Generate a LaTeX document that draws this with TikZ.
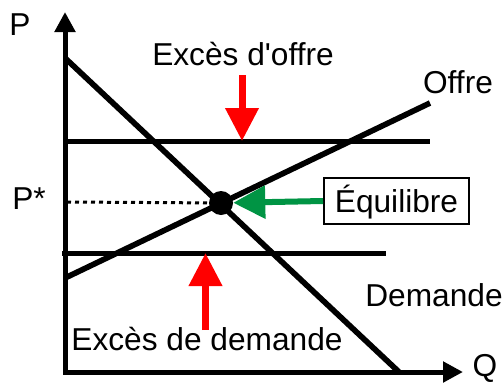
\documentclass[tikz,border=0pt]{standalone}
\usepackage{fontspec}
\setmainfont{Liberation Sans}
\usetikzlibrary{arrows.meta}
\definecolor{vertequi}{RGB}{0,148,68}

\begin{document}
\begin{tikzpicture}[
    x=0.75pt, y=-0.75pt,
    texte/.style={font=\fontsize{23.75}{28}\selectfont, inner sep=0pt, anchor=base},
    axe/.style={line width=3.75pt, line join=miter, {Triangle[length=15pt, width=15pt]}-{Triangle[length=15pt, width=15pt]}},
    courbe/.style={line width=4.25pt},
    niveau/.style={line width=3.75pt},
    pointille/.style={line width=2.25pt, dash pattern=on 3pt off 3pt},
    flecherouge/.style={line width=5.25pt, red, -{Triangle[length=24.75pt, width=24pt]}},
    flecheverte/.style={line width=4.5pt, vertequi, -{Triangle[length=24pt, width=24pt]}},
    equipoint/.style={circle, fill, inner sep=0pt, minimum size=18pt},
    boite/.style={rectangle, draw, line width=1.5pt, minimum width=108.75pt, minimum height=34.5pt, inner sep=0pt, text height=16.5pt, text depth=0pt, font=\fontsize{23.75}{28}\selectfont}
]
\useasboundingbox (0,0) rectangle (502,382);

\coordinate (origine) at (65,372);
\coordinate (ytip) at (65,12);
\coordinate (xtip) at (463,372);
\coordinate (dA) at (65,58);
\coordinate (dB) at (399,372);
\coordinate (sA) at (65,278);
\coordinate (sB) at (430,103);
\coordinate (hA) at (65,141);
\coordinate (hB) at (430,141);
\coordinate (bA) at (62,253);
\coordinate (bB) at (386,253);
\coordinate (pstar) at (67,202);
\coordinate (roA) at (242,75);
\coordinate (rdA) at (205.5,330);

\node[equipoint] (eq) at (221,203) {};
\node[boite] (equi) at (396.5,201) {Équilibre};

\node[texte] (P) at (20,35) {P};
\node[texte] (Pe) at (29,209) {P*};
\node[texte] (exoffre) at (243,65) {Excès d\textquotesingle offre};
\node[texte] (offre) at (458,93) {Offre};
\node[texte] (demande) at (434,306) {Demande};
\node[texte] (exdemande) at (207,350) {Excès de demande};
\node[texte] (Q) at (485,376) {Q};

\draw[axe] (ytip) -- (origine) -- (xtip);
\draw[niveau] (hA) -- (hB);
\draw[niveau] (bA) -- (bB);
\draw[courbe] (dA) -- (dB);
\draw[courbe] (sA) -- (sB);
\draw[pointille] (pstar) -- (eq);
\draw[flecherouge] (roA) -- (roA |- hA);
\draw[flecherouge] (rdA) -- (rdA |- bA);
\draw[flecheverte] (equi.west) -- (eq);
\end{tikzpicture}
\end{document}
